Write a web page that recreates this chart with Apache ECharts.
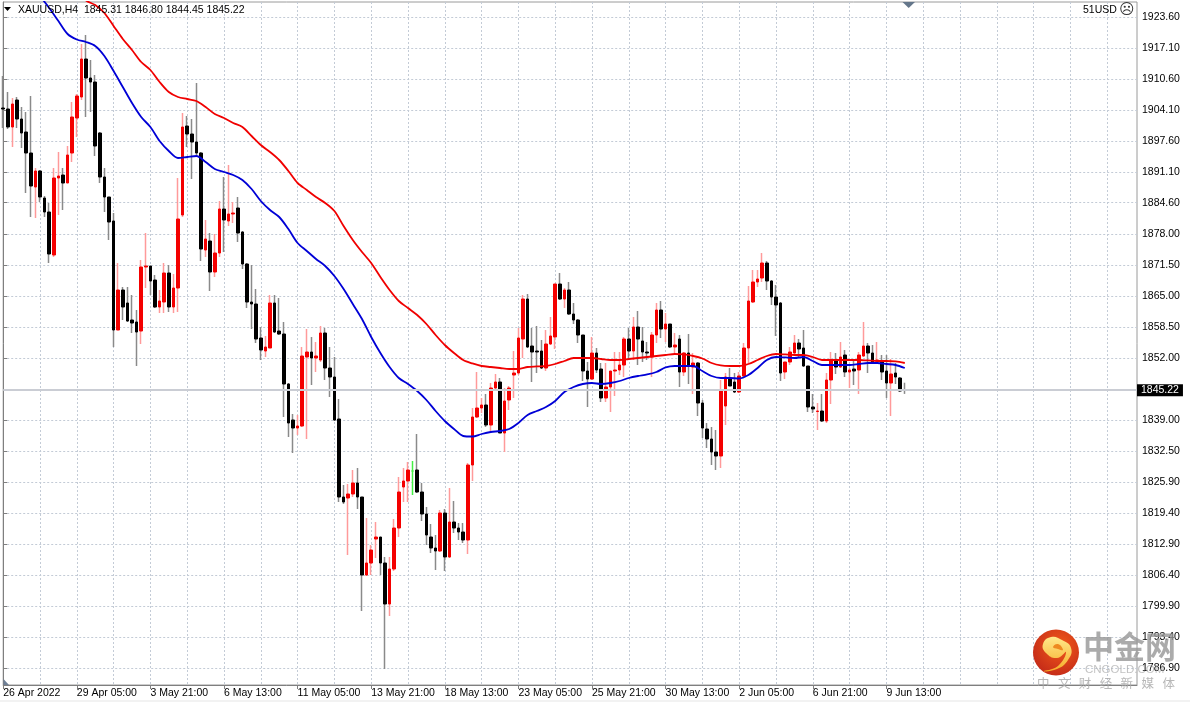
<!DOCTYPE html>
<html>
<head>
<meta charset="utf-8">
<title>XAUUSD H4</title>
<script src="https://cdn.jsdelivr.net/npm/echarts@6/dist/echarts.min.js"></script>
<style>html,body{margin:0;padding:0;background:#fff}#main{width:1190px;height:702px}</style>
</head>
<body>
<div id="main"></div>
<script>
// H4 bars, oldest first
const opens = [
1904.49,1904.28,1900.50,1906.17,1902.18,1899.45,1895.04,1887.90,1891.26,1885.59,
1882.65,1873.62,1889.79,1890.42,1888.74,1895.04,1902.39,1906.80,1914.78,1910.79,
1909.95,1899.24,1890.00,1885.80,1880.76,1857.87,1866.27,1863.54,1859.97,1859.55,
1857.66,1871.10,1871.31,1868.37,1862.70,1863.75,1869.84,1862.70,1866.69,1882.02,
1900.71,1899.03,1897.35,1895.04,1874.67,1876.56,1870.05,1874.04,1883.28,1880.76,
1882.23,1883.49,1878.45,1871.73,1863.75,1863.33,1856.19,1853.46,1854.09,1863.54,
1857.66,1857.03,1846.53,1838.97,1837.29,1837.71,1852.20,1853.25,1851.99,1851.57,
1857.24,1849.89,1848.00,1839.18,1822.80,1822.59,1823.43,1825.74,1822.80,1806.42,
1808.94,1813.98,1814.40,1808.94,1800.33,1807.68,1816.29,1824.90,1826.16,1828.26,
1828.47,1823.85,1819.23,1814.40,1812.09,1811.46,1819.44,1810.20,1817.55,1816.29,
1815.45,1813.77,1829.52,1839.60,1841.49,1842.12,1837.92,1845.69,1846.95,1836.24,
1843.17,1848.42,1848.84,1855.98,1864.38,1854.51,1853.46,1853.46,1849.89,1854.93,
1856.40,1867.53,1864.38,1866.27,1861.23,1859.97,1856.82,1849.26,1847.58,1853.04,
1849.68,1843.59,1845.90,1849.26,1849.47,1850.52,1855.98,1853.46,1858.50,1855.56,
1853.25,1852.20,1856.82,1862.07,1858.08,1859.13,1854.30,1855.98,1849.05,1853.04,
1850.10,1850.94,1842.54,1837.08,1834.98,1832.25,1831.41,1841.91,1847.79,1846.95,
1844.85,1848.21,1854.09,1863.75,1867.95,1868.79,1871.94,1868.16,1864.80,1863.54,
1849.05,1851.15,1853.04,1855.14,1854.09,1850.31,1841.70,1840.75,1840.86,1838.76,
1847.37,1851.36,1850.10,1852.62,1849.05,1849.68,1849.47,1852.41,1854.51,1853.04,
1851.36,1851.36,1849.26,1846.74,1848.84,1847.79,1845.31
];
const closes = [
1904.28,1900.50,1905.33,1902.18,1899.24,1895.04,1888.11,1891.26,1885.80,1882.65,
1873.83,1889.79,1890.21,1888.74,1894.62,1902.60,1907.01,1914.78,1910.79,1909.95,
1896.51,1890.00,1885.80,1880.55,1857.87,1866.27,1862.70,1859.76,1859.34,1857.45,
1871.10,1871.31,1868.16,1862.70,1863.96,1869.84,1862.70,1866.69,1881.18,1900.50,
1899.03,1897.35,1895.04,1874.88,1876.98,1870.05,1874.04,1883.28,1880.97,1882.23,
1882.44,1878.24,1871.73,1863.75,1863.33,1855.98,1853.67,1854.30,1863.54,1857.45,
1857.03,1846.53,1838.34,1837.29,1837.71,1852.41,1853.25,1851.99,1852.41,1857.24,
1849.89,1848.00,1838.97,1822.80,1821.75,1823.43,1825.74,1822.80,1806.42,1808.94,
1811.67,1814.40,1808.94,1800.33,1807.68,1816.29,1823.85,1826.16,1828.47,1828.26,
1823.85,1819.23,1814.82,1812.09,1811.46,1819.44,1810.20,1817.55,1816.29,1815.45,
1813.77,1829.52,1839.60,1841.49,1842.12,1837.92,1845.69,1846.95,1836.24,1842.96,
1845.69,1848.84,1856.19,1864.38,1854.30,1853.25,1853.25,1849.89,1854.93,1856.61,
1867.53,1864.38,1866.27,1861.23,1859.97,1856.82,1849.26,1847.58,1853.04,1849.47,
1843.59,1845.90,1849.26,1849.47,1850.52,1855.98,1853.46,1858.50,1855.98,1853.25,
1853.04,1856.82,1862.07,1858.08,1859.13,1854.30,1854.72,1849.05,1853.04,1850.52,
1850.94,1842.54,1837.29,1834.98,1832.25,1831.41,1845.27,1848.00,1846.11,1844.85,
1848.21,1854.09,1863.96,1867.95,1868.58,1871.94,1868.16,1864.80,1863.12,1848.84,
1851.15,1853.25,1855.14,1853.88,1850.31,1841.70,1841.28,1840.86,1838.76,1847.37,
1851.57,1850.10,1852.20,1849.05,1849.47,1849.26,1852.62,1854.51,1853.04,1850.94,
1851.57,1849.05,1846.74,1848.63,1848.00,1845.06,1845.22
];
const lows = [
1900.29,1900.08,1896.30,1900.29,1896.09,1886.64,1881.60,1881.39,1884.75,1881.60,
1871.94,1873.20,1882.02,1883.07,1888.74,1893.15,1898.40,1906.17,1902.60,1903.65,
1894.41,1888.74,1882.65,1876.77,1854.30,1857.87,1859.97,1859.55,1857.24,1850.31,
1854.93,1866.69,1865.22,1862.49,1861.44,1861.44,1861.65,1861.44,1861.65,1881.60,
1896.30,1889.58,1894.62,1872.36,1873.20,1866.06,1869.00,1873.20,1874.25,1879.71,
1880.34,1876.35,1870.68,1862.49,1858.08,1855.14,1851.57,1852.20,1854.09,1857.24,
1856.82,1839.60,1835.40,1832.04,1835.82,1837.50,1834.98,1846.32,1849.05,1851.15,
1847.37,1843.80,1838.76,1821.75,1821.33,1810.62,1822.80,1820.28,1798.86,1806.21,
1806.42,1809.99,1806.42,1786.68,1797.81,1807.26,1814.40,1821.75,1821.75,1823.22,
1823.64,1817.76,1812.72,1811.04,1807.47,1811.25,1807.26,1809.99,1815.24,1813.77,
1813.14,1810.83,1826.16,1839.39,1840.44,1837.50,1836.45,1845.27,1836.24,1832.25,
1841.07,1843.59,1848.42,1851.99,1854.09,1846.95,1848.84,1849.68,1849.26,1854.72,
1853.88,1864.17,1862.49,1861.02,1859.13,1855.14,1847.16,1841.70,1847.37,1848.84,
1842.75,1842.75,1840.65,1844.01,1848.42,1848.00,1851.99,1851.57,1850.52,1851.15,
1851.57,1848.00,1855.14,1856.19,1855.35,1854.09,1853.04,1845.90,1848.21,1846.53,
1844.43,1839.81,1835.19,1833.09,1829.52,1828.47,1828.89,1837.92,1846.11,1844.64,
1844.64,1848.00,1850.94,1863.54,1866.90,1867.95,1866.27,1863.12,1856.61,1847.16,
1847.58,1850.52,1852.83,1852.20,1850.10,1840.65,1840.44,1836.87,1838.55,1838.34,
1842.33,1848.63,1849.89,1848.00,1845.69,1846.32,1844.43,1852.20,1848.84,1850.73,
1851.15,1847.37,1843.59,1839.81,1846.53,1844.85,1844.45
];
const highs = [
1911.21,1907.85,1906.59,1906.80,1904.70,1903.65,1907.01,1891.89,1891.47,1886.01,
1884.54,1891.89,1895.25,1891.89,1896.51,1905.75,1907.43,1917.93,1919.82,1914.57,
1911.42,1899.45,1891.89,1885.80,1882.44,1871.94,1866.90,1866.90,1865.22,1862.07,
1872.57,1878.24,1871.31,1869.42,1866.27,1871.94,1871.52,1869.63,1889.79,1903.44,
1902.81,1902.18,1909.74,1895.25,1880.97,1878.24,1878.03,1884.96,1890.00,1892.52,
1884.75,1885.80,1878.66,1871.94,1871.52,1866.48,1858.50,1856.61,1865.22,1865.22,
1864.59,1859.55,1846.74,1840.23,1840.02,1854.30,1858.08,1856.40,1855.35,1858.71,
1858.29,1854.30,1852.20,1843.38,1825.32,1825.53,1828.47,1828.89,1822.80,1818.39,
1812.72,1817.55,1814.40,1810.20,1810.20,1818.18,1827.00,1828.89,1830.15,1830.36,
1836.03,1825.74,1820.70,1817.13,1814.82,1820.07,1820.28,1824.69,1821.96,1817.34,
1817.34,1829.94,1841.49,1849.05,1843.59,1844.43,1846.74,1848.63,1847.79,1845.69,
1846.11,1853.46,1858.29,1865.22,1865.43,1858.29,1858.71,1855.77,1857.87,1860.60,
1867.53,1869.84,1866.69,1867.95,1863.54,1860.18,1856.82,1851.15,1856.40,1854.09,
1850.94,1850.94,1849.26,1853.25,1853.25,1856.40,1858.29,1860.60,1861.86,1858.50,
1855.35,1857.45,1863.54,1863.96,1861.44,1859.13,1857.24,1856.82,1853.25,1857.03,
1853.04,1851.15,1843.17,1838.34,1837.50,1836.87,1847.37,1848.84,1849.89,1848.84,
1849.05,1855.14,1867.11,1870.47,1870.47,1874.04,1872.36,1868.37,1867.32,1863.75,
1851.15,1854.30,1856.82,1855.98,1857.87,1850.31,1844.43,1842.54,1844.43,1848.84,
1853.25,1853.04,1855.35,1853.67,1849.89,1851.36,1853.25,1859.55,1855.14,1854.72,
1855.35,1852.62,1852.62,1851.78,1850.94,1848.00,1846.80
];

// Moving averages, one reading every second bar
const maStep = 2;
const fastMaStart = 8;
const fastMa = [
1928.01,1925.49,1922.76,1920.03,1918.88,1918.35,1917.51,1915.41,1912.26,1908.90,
1905.54,1902.60,1900.50,1897.56,1895.46,1893.99,1894.20,1894.41,1893.15,1891.68,
1891.05,1890.42,1889.37,1887.48,1884.96,1883.07,1881.60,1879.08,1876.14,1874.46,
1872.78,1871.31,1869.21,1866.48,1863.33,1860.18,1856.40,1853.04,1850.10,1847.79,
1846.53,1845.06,1843.17,1840.86,1838.76,1837.08,1835.61,1835.50,1836.03,1836.45,
1836.66,1837.08,1838.34,1840.02,1840.86,1841.70,1842.96,1844.85,1845.90,1846.53,
1846.74,1846.53,1846.74,1847.16,1847.79,1848.21,1848.53,1849.05,1850.00,1850.31,
1850.31,1850.31,1849.26,1848.21,1847.79,1847.79,1847.69,1848.42,1849.89,1851.57,
1852.20,1852.10,1851.99,1852.20,1851.36,1850.52,1850.52,1850.52,1850.52,1850.73,
1850.94,1850.94,1850.73,1850.52,1849.89
];
const slowMaStart = 16;
const slowMa = [
1929.27,1927.07,1926.12,1924.44,1921.71,1918.98,1916.67,1914.15,1912.47,1909.95,
1907.85,1906.80,1906.38,1905.96,1904.70,1903.23,1902.39,1901.34,1900.50,1898.61,
1896.72,1895.25,1893.57,1891.26,1888.74,1887.27,1885.80,1884.54,1882.86,1879.71,
1876.77,1874.25,1871.94,1869.00,1866.27,1863.96,1862.49,1861.02,1859.13,1856.82,
1854.72,1853.04,1851.57,1850.84,1850.31,1850.10,1849.89,1849.68,1849.68,1850.10,
1850.21,1850.31,1850.73,1851.36,1851.99,1851.99,1851.99,1851.78,1851.57,1851.57,
1851.78,1851.99,1852.20,1852.41,1852.62,1852.83,1852.73,1852.41,1851.89,1850.94,
1850.42,1850.31,1850.31,1850.73,1851.57,1852.41,1852.83,1852.73,1852.62,1852.62,
1852.20,1851.57,1851.57,1851.57,1851.57,1851.57,1851.47,1851.36,1851.36,1851.26,
1850.94
];

const lastPrice = 1845.22;
const priceTicks = [1923.60,1917.10,1910.60,1904.10,1897.60,1891.10,1884.60,1878.00,1871.50,1865.00,
  1858.50,1852.00,1845.50,1839.00,1832.50,1825.90,1819.40,1812.90,1806.40,1799.90,1793.40,1786.90];
const priceLabels = priceTicks.filter(v => v !== 1845.50);
const timeLabels = ['26 Apr 2022','29 Apr 05:00','3 May 21:00','6 May 13:00','11 May 05:00','13 May 21:00',
  '18 May 13:00','23 May 05:00','25 May 21:00','30 May 13:00','2 Jun 05:00','6 Jun 21:00','9 Jun 13:00'];
const barsPerLabel = 16;
const barsPerGridLine = 8;
const visibleBars = 246.48;

const labelTicks = timeLabels.map((_, k) => k * barsPerLabel);
const gridTicks = [];
for (let b = 0; b <= visibleBars; b += barsPerGridLine) gridTicks.push(b);

const wickData = opens.map((o, i) => [i, o, closes[i], lows[i], highs[i]]);
const bodyData = opens.map((o, i) => [i, o, closes[i], Math.min(o, closes[i]), Math.max(o, closes[i])]);
const toLine = (values, start) => values.map((v, k) => [start + k * maStep, v]);

const uiFont = '"Liberation Sans", Arial, sans-serif';
const gridLine = { show: true, lineStyle: { color: '#c3cbd6', type: [2, 2], width: 1 } };

const chart = echarts.init(document.getElementById('main'), null, { renderer: 'canvas' });
chart.setOption({
  animation: false,
  backgroundColor: '#ffffff',
  grid: { left: 3.2, right: 53, top: 2, bottom: 17, show: true, borderColor: '#9a9a9a', borderWidth: 1, backgroundColor: 'transparent' },
  xAxis: [
    { type: 'value', min: 0, max: visibleBars, position: 'bottom',
      axisLine: { show: true, lineStyle: { color: '#7f7f7f', width: 1 } },
      axisLabel: { show: false },
      axisTick: { show: false, customValues: gridTicks },
      splitLine: gridLine },
    { type: 'value', min: 0, max: visibleBars, position: 'bottom',
      axisLine: { show: false },
      axisTick: { show: true, length: 4, customValues: labelTicks, lineStyle: { color: '#7f7f7f' } },
      axisLabel: { show: true, customValues: labelTicks, align: 'left', margin: 3, color: '#000',
        fontFamily: uiFont, fontSize: 10.5,
        formatter: v => timeLabels[Math.round(v / barsPerLabel)] },
      splitLine: { show: false } }
  ],
  yAxis: {
    type: 'value', position: 'right', min: 1783.32, max: 1926.75,
    axisLine: { show: true, lineStyle: { color: '#7f7f7f', width: 1 } },
    axisTick: { show: true, length: 4, customValues: priceTicks, lineStyle: { color: '#7f7f7f' } },
    axisLabel: { show: true, customValues: priceLabels, margin: 5, padding: [4, 0, 0, 0], color: '#000', fontFamily: uiFont, fontSize: 10.5,
      formatter: v => v.toFixed(2) },
    splitLine: gridLine
  },
  series: [
    { type: 'candlestick', name: 'wicks', xAxisIndex: 0, barWidth: 1, data: wickData, clip: false, silent: true,
      encode: { x: 0, y: [1, 2, 3, 4] },
      itemStyle: { color: '#ff9a9a', color0: '#8a8a8a', borderColor: '#ff9a9a', borderColor0: '#8a8a8a', borderColorDoji: '#44ee44', borderWidth: 1.5 },
      markLine: { silent: true, symbol: 'none', animation: false,
        lineStyle: { color: '#cacdd4', type: 'solid', width: 2 },
        label: { show: true, position: 'end', distance: 0, formatter: p => p.value.toFixed(2), color: '#fff',
          backgroundColor: '#000', padding: [1, 4, 0, 4], fontFamily: uiFont, fontSize: 10.5, align: 'left' },
        data: [{ yAxis: lastPrice }] } },
    { type: 'candlestick', name: 'bodies', xAxisIndex: 0, barWidth: 3, data: bodyData, clip: false, silent: true,
      encode: { x: 0, y: [1, 2, 3, 4] },
      itemStyle: { color: '#f40000', color0: '#000000', borderColor: '#f40000', borderColor0: '#000000', borderColorDoji: '#44ee44', borderWidth: 1 } },
    { type: 'line', name: 'fast MA', xAxisIndex: 0, data: toLine(fastMa, fastMaStart), showSymbol: false, symbol: 'none', silent: true, smooth: 0.3,
      lineStyle: { color: '#0000d6', width: 1.8 } },
    { type: 'line', name: 'slow MA', xAxisIndex: 0, data: toLine(slowMa, slowMaStart), showSymbol: false, symbol: 'none', silent: true, smooth: 0.3,
      lineStyle: { color: '#f00000', width: 1.8 } }
  ],
  graphic: [
    // chart header
    { type: 'polygon', z: 50, silent: true, shape: { points: [[4, 7], [11, 7], [7.5, 11]] }, style: { fill: '#000' } },
    { type: 'text', z: 50, silent: true, x: 18, y: 5, style: { text: 'XAUUSD,H4  1845.31 1846.80 1844.45 1845.22', font: '10.5px ' + uiFont, fill: '#000' } },
    { type: 'text', z: 50, silent: true, x: 1083, y: 5, style: { text: '51USD', font: '10.5px ' + uiFont, fill: '#000' } },
    { type: 'text', z: 50, silent: true, x: 1119, y: 3, style: { text: '\u2639', font: '15px "DejaVu Sans"', fill: '#333' } },
    // chart-shift marker and scale marker
    { type: 'polygon', z: 50, silent: true, shape: { points: [[902.5, 2], [915, 2], [908.7, 8]] }, style: { fill: '#64768a' } },
    { type: 'polygon', z: 50, silent: true, shape: { points: [[3.5, 679], [9, 685], [3.5, 685]] }, style: { fill: '#6e8097' } },
    // brand mark
    { type: 'circle', z: 60, silent: true, shape: { cx: 1056, cy: 652.5, r: 23 },
      style: { fill: new echarts.graphic.RadialGradient(0.6, 0.35, 0.7, [{ offset: 0, color: '#f0591a' }, { offset: 1, color: '#c42a18' }]) } },
    { type: 'polygon', z: 61, silent: true,
      shape: { smooth: 0.5, points: [[1044, 671], [1058, 666], [1066, 652], [1057, 658], [1046, 653], [1043, 644], [1051, 637], [1062, 640], [1071, 648], [1068, 660], [1057, 669]] },
      style: { fill: new echarts.graphic.LinearGradient(0, 0, 0, 1, [{ offset: 0, color: '#ffe88a' }, { offset: 1, color: '#f6ac28' }]) } },
    { type: 'polygon', z: 62, silent: true,
      shape: { smooth: 0.5, points: [[1053, 647], [1058, 644], [1063, 650], [1058, 649]] }, style: { fill: '#ee8a20' } },
    { type: 'text', z: 61, silent: true, x: 1083, y: 631, style: { text: '中金网', font: 'bold 31px "Noto Sans CJK SC"', fill: 'rgba(150,150,150,0.8)' } },
    { type: 'text', z: 61, silent: true, x: 1085, y: 664, style: { text: 'CNGOLD.COM', font: '11.5px ' + uiFont, fill: 'rgba(170,170,170,0.7)' } },
    { type: 'text', z: 61, silent: true, x: 1037, y: 677, style: { text: '中   文   财   经   新   媒   体', font: '12.5px "Noto Sans CJK SC"', fill: 'rgba(170,170,170,0.85)' } },
    { type: 'rect', z: 1, silent: true, shape: { x: 0, y: 700, width: 1190, height: 2 }, style: { fill: '#f2f2f2' } }
  ]
});
</script>
</body>
</html>
